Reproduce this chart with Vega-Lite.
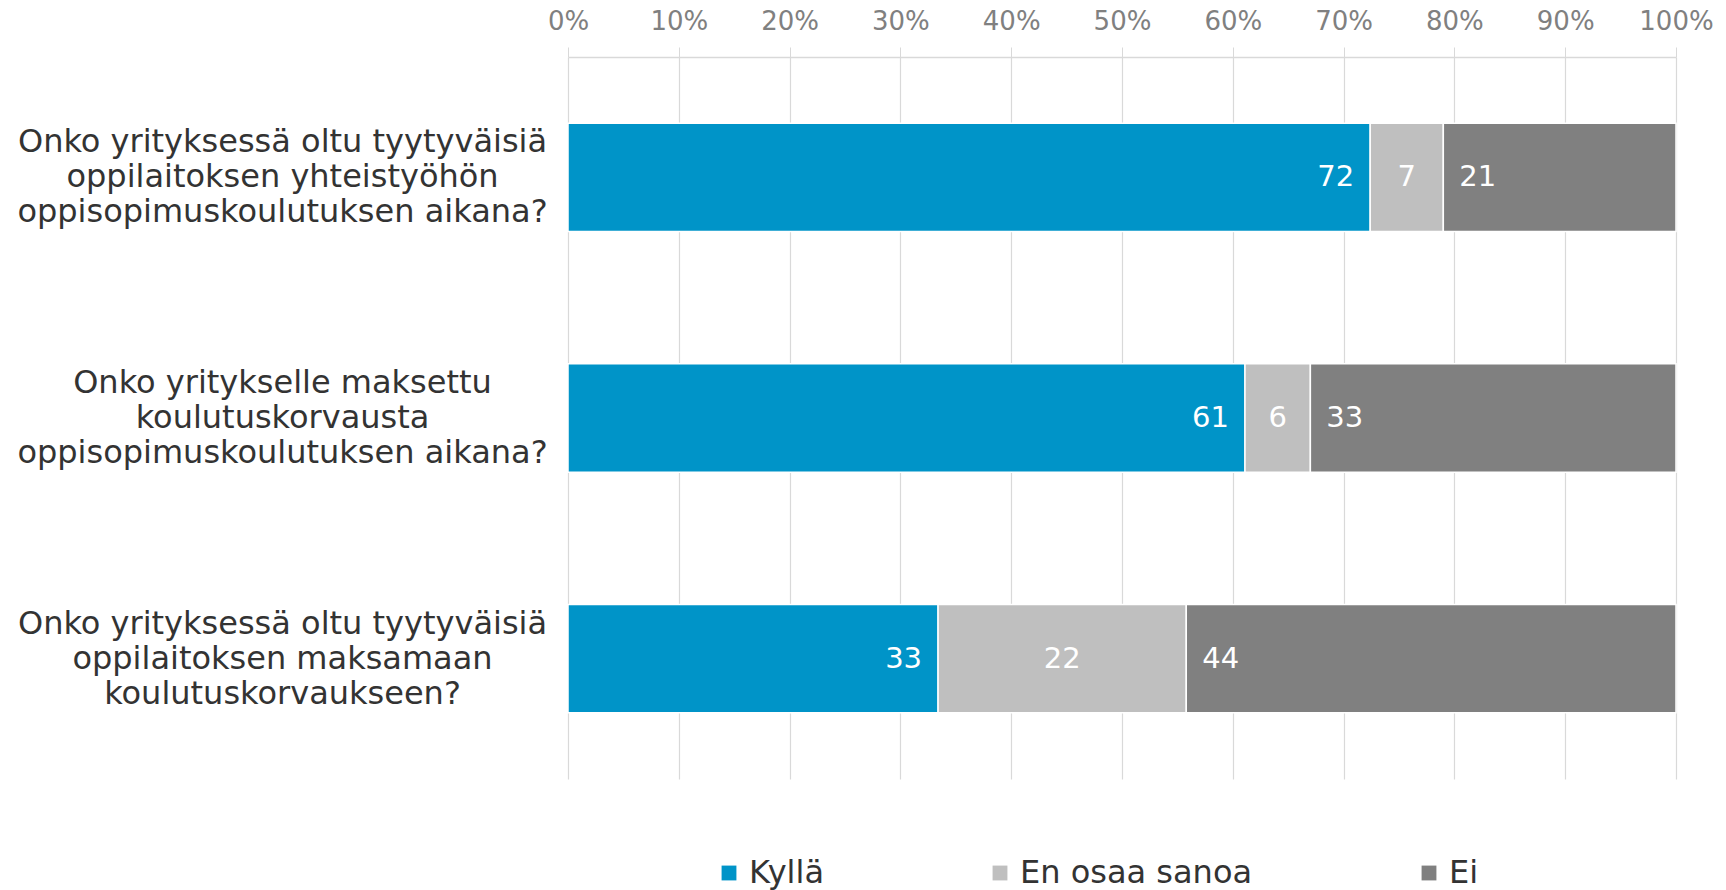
{
  "$schema": "https://vega.github.io/schema/vega-lite/v6.json",
  "width": 1108,
  "height": 722,
  "autosize": {"type": "none"},
  "padding": {"left": 568, "top": 57, "right": 50, "bottom": 111},
  "background": "white",
  "config": {
    "font": "DejaVu Sans",
    "view": {"stroke": null}
  },
  "data": {
    "values": [
      {"question": "Onko yrityksessä oltu tyytyväisiä|oppilaitoksen yhteistyöhön|oppisopimuskoulutuksen aikana?", "qorder": 1, "answer": "Kyllä", "order": 1, "value": 72.4},
      {"question": "Onko yrityksessä oltu tyytyväisiä|oppilaitoksen yhteistyöhön|oppisopimuskoulutuksen aikana?", "qorder": 1, "answer": "En osaa sanoa", "order": 2, "value": 6.6},
      {"question": "Onko yrityksessä oltu tyytyväisiä|oppilaitoksen yhteistyöhön|oppisopimuskoulutuksen aikana?", "qorder": 1, "answer": "Ei", "order": 3, "value": 21.0},
      {"question": "Onko yritykselle maksettu|koulutuskorvausta|oppisopimuskoulutuksen aikana?", "qorder": 2, "answer": "Kyllä", "order": 1, "value": 61.1},
      {"question": "Onko yritykselle maksettu|koulutuskorvausta|oppisopimuskoulutuksen aikana?", "qorder": 2, "answer": "En osaa sanoa", "order": 2, "value": 5.9},
      {"question": "Onko yritykselle maksettu|koulutuskorvausta|oppisopimuskoulutuksen aikana?", "qorder": 2, "answer": "Ei", "order": 3, "value": 33.0},
      {"question": "Onko yrityksessä oltu tyytyväisiä|oppilaitoksen maksamaan|koulutuskorvaukseen?", "qorder": 3, "answer": "Kyllä", "order": 1, "value": 33.4},
      {"question": "Onko yrityksessä oltu tyytyväisiä|oppilaitoksen maksamaan|koulutuskorvaukseen?", "qorder": 3, "answer": "En osaa sanoa", "order": 2, "value": 22.4},
      {"question": "Onko yrityksessä oltu tyytyväisiä|oppilaitoksen maksamaan|koulutuskorvaukseen?", "qorder": 3, "answer": "Ei", "order": 3, "value": 44.2}
    ]
  },
  "transform": [
    {"stack": "value", "groupby": ["question"], "sort": [{"field": "order"}], "as": ["v0", "v1"]},
    {"calculate": "(datum.v0 + datum.v1) / 2", "as": "vmid"}
  ],
  "encoding": {
    "y": {
      "field": "question",
      "type": "nominal",
      "sort": {"field": "qorder"},
      "scale": {"paddingInner": 0.55, "paddingOuter": 0.275},
      "axis": {
        "title": null,
        "domain": false,
        "ticks": false,
        "labelExpr": "split(datum.label, '|')",
        "labelFontSize": 32,
        "labelLineHeight": 35,
        "labelColor": "#333333",
        "labelAlign": "center",
        "labelBaseline": "middle",
        "labelOffset": -35,
        "labelPadding": 286,
        "labelLimit": 700
      }
    }
  },
  "layer": [
    {
      "mark": {"type": "bar", "stroke": "white", "strokeWidth": 1.5},
      "encoding": {
        "x": {
          "field": "v0",
          "type": "quantitative",
          "scale": {"domain": [0, 100]},
          "axis": {
            "orient": "top",
            "title": null,
            "values": [0, 10, 20, 30, 40, 50, 60, 70, 80, 90, 100],
            "labelExpr": "datum.value + '%'",
            "labelFontSize": 26,
            "labelColor": "#808080",
            "labelPadding": 13,
            "labelFlush": false,
            "labelOverlap": false,
            "labelBound": false,
            "domainColor": "#d9d9d9",
            "domainWidth": 1.5,
            "tickColor": "#d9d9d9",
            "tickSize": 10,
            "grid": true,
            "gridColor": "#d9d9d9",
            "gridWidth": 1.2
          }
        },
        "x2": {"field": "v1"},
        "color": {
          "field": "answer",
          "type": "nominal",
          "sort": ["Kyllä", "En osaa sanoa", "Ei"],
          "scale": {"domain": ["Kyllä", "En osaa sanoa", "Ei"], "range": ["#0094c8", "#bfbfbf", "#808080"]},
          "legend": {
            "title": null,
            "orient": "none",
            "legendX": 145,
            "legendY": 800,
            "direction": "horizontal",
            "symbolType": "square",
            "symbolSize": 220,
            "symbolStrokeWidth": 0,
            "labelFontSize": 32,
            "labelLimit": 500,
            "labelColor": "#333333",
            "labelOffset": 4,
            "columnPadding": 160
          }
        }
      }
    },
    {
      "transform": [{"filter": "datum.answer === 'Kyllä'"}],
      "mark": {"type": "text", "align": "right", "baseline": "middle", "dx": -16, "fontSize": 29, "color": "white"},
      "encoding": {
        "x": {"field": "v1", "type": "quantitative"},
        "text": {"field": "value", "type": "quantitative", "format": ".0f"}
      }
    },
    {
      "transform": [{"filter": "datum.answer === 'En osaa sanoa'"}],
      "mark": {"type": "text", "align": "center", "baseline": "middle", "fontSize": 29, "color": "white"},
      "encoding": {
        "x": {"field": "vmid", "type": "quantitative"},
        "text": {"field": "value", "type": "quantitative", "format": ".0f"}
      }
    },
    {
      "transform": [{"filter": "datum.answer === 'Ei'"}],
      "mark": {"type": "text", "align": "left", "baseline": "middle", "dx": 16, "fontSize": 29, "color": "white"},
      "encoding": {
        "x": {"field": "v0", "type": "quantitative"},
        "text": {"field": "value", "type": "quantitative", "format": ".0f"}
      }
    }
  ]
}
